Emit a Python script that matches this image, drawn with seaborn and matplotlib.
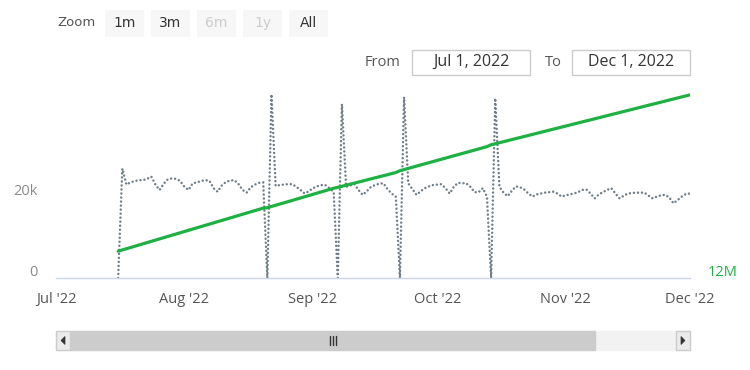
import pandas as pd
import numpy as np
import matplotlib
matplotlib.use("Agg")
import matplotlib.pyplot as plt
import matplotlib.transforms as mtransforms
from matplotlib.patches import Rectangle, Polygon
from matplotlib.lines import Line2D
import seaborn as sns

# daily counts (thousands) starting Jul 16, 2022
start_day = "2022-07-16"
daily_k = [
    0.0,
    24.6, 21.0, 21.5, 21.8, 22.0, 22.0, 22.3, 22.8, 21.0, 19.8,
    21.2, 22.2, 22.4, 22.3, 21.8, 20.5, 19.8, 21.3, 21.5, 21.8,
    22.0, 21.9, 20.2, 19.4, 20.8, 21.6, 21.9, 22.0, 21.2, 19.8,
    19.2, 20.4, 21.0, 21.4, 21.5, 0.0, 41.3, 20.7, 20.9, 21.0,
    21.1, 21.1, 20.5, 19.8, 19.0, 19.5, 20.2, 20.6, 20.9, 20.9,
    20.2, 19.4, 0.0, 39.1, 20.5, 20.8, 21.1, 19.8, 18.7, 19.5,
    20.5, 20.9, 21.2, 21.3, 20.0, 19.0, 18.3, 0.0, 40.7, 21.3,
    20.0, 18.7, 19.5, 20.2, 20.6, 20.9, 21.0, 21.1, 20.2, 19.0,
    20.5, 21.4, 21.3, 21.3, 20.5, 19.3, 19.3, 20.2, 18.3, 0.0,
    40.4, 20.5, 19.2, 18.4, 19.6, 20.6, 20.4, 19.9, 19.0, 18.3,
    18.8, 19.0, 19.2, 19.3, 19.4, 19.0, 18.3, 18.6, 18.8, 19.0,
    19.3, 19.8, 19.9, 19.0, 17.9, 18.8, 19.3, 19.8, 20.2, 19.0,
    17.9, 18.5, 19.0, 19.1, 19.2, 19.2, 19.2, 18.5, 17.9, 18.3,
    18.6, 18.7, 18.1, 16.8, 17.5, 18.3, 18.9, 19.0,
]

# cumulative series (millions), right axis
green_dates = ["2022-07-16", "2022-08-20", "2022-08-21", "2022-09-06", "2022-09-07",
               "2022-09-21", "2022-09-22", "2022-10-13", "2022-10-14", "2022-12-01"]
green_m = [12.058, 12.151, 12.152, 12.194, 12.196,
           12.228, 12.232, 12.284, 12.288, 12.396]

month_ticks = ["2022-07-01", "2022-08-01", "2022-09-01", "2022-10-01", "2022-11-01", "2022-12-01"]
month_labels = ["Jul '22", "Aug '22", "Sep '22", "Oct '22", "Nov '22", "Dec '22"]
zoom_buttons = ["1m", "3m", "6m", "1y", "All"]
zoom_enabled = [True, True, False, False, True]
from_text = "Jul 1, 2022"
to_text = "Dec 1, 2022"

GRAY = "#6f7e88"
GREEN = "#1db043"
W, H = 750, 370

sns.set_style("white")
plt.rcParams["font.family"] = ["Open Sans", "DejaVu Sans"]

fig = plt.figure(figsize=(7.5, 3.7), dpi=100)


def fx(x):
    return x / W


def fy(y):
    return 1 - y / H


ax = fig.add_axes([fx(56), fy(278), fx(690) - fx(56), fy(93) - fy(278)])

gray_df = pd.DataFrame({"date": pd.date_range(start_day, periods=len(daily_k), freq="D"),
                        "value": daily_k})
sns.lineplot(data=gray_df, x="date", y="value", ax=ax, color=GRAY, linewidth=1.8,
             linestyle=(0, (0.01, 1.6)))
ax.lines[-1].set_dash_capstyle("round")

ax.set_xlim(pd.Timestamp("2022-07-01"), pd.Timestamp("2022-12-01"))
ax.set_ylim(0, 41.6)
ax.set_xticks(pd.to_datetime(month_ticks))
ax.set_xticklabels(month_labels, fontsize=10.5, color="#555555")
ax.set_yticks([0, 20])
ax.set_yticklabels(["0", "20k"], fontsize=10.5, color="#8a8a8a")
ax.tick_params(axis="x", length=9, width=1, color="#ccd6eb", pad=1, direction="out")
ax.tick_params(axis="y", length=0, pad=13)
off = mtransforms.ScaledTranslation(0, 7 / 100, fig.dpi_scale_trans)
ax.get_yticklabels()[0].set_transform(ax.get_yticklabels()[0].get_transform() + off)
ax.set_xlabel("")
ax.set_ylabel("")
for s in ["top", "right", "left"]:
    ax.spines[s].set_visible(False)
ax.spines["bottom"].set_color("#ccd6eb")
ax.spines["bottom"].set_linewidth(1)

ax2 = ax.twinx()
green_df = pd.DataFrame({"date": pd.to_datetime(green_dates), "value": green_m})
sns.lineplot(data=green_df, x="date", y="value", ax=ax2, color=GREEN, linewidth=2.3)
ax2.set_ylim(12.0, 12.4)
ax2.set_yticks([12.0])
ax2.set_yticklabels(["12M"], fontsize=10.5, color=GREEN)
ax2.tick_params(axis="y", length=0, pad=13)
ax2.get_yticklabels()[0].set_transform(ax2.get_yticklabels()[0].get_transform() + off)
ax2.set_ylabel("")
ax2.set_xlim(pd.Timestamp("2022-07-01"), pd.Timestamp("2022-12-01"))
for s in ["top", "right", "left", "bottom"]:
    ax2.spines[s].set_visible(False)

# range selector buttons
fig.text(fx(77), fy(22), "Zoom", fontsize=9.5, color="#555555", ha="center", va="center",
         family="DejaVu Sans")
btn_x = [105, 151, 197, 243, 289]
for bx, lab, en in zip(btn_x, zoom_buttons, zoom_enabled):
    fig.add_artist(Rectangle((fx(bx), fy(37)), fx(39), fy(10) - fy(37),
                             transform=fig.transFigure, facecolor="#f7f7f7", edgecolor="none"))
    fig.text(fx(bx + 19.5), fy(23), lab, fontsize=10, ha="center", va="center",
             color="#333333" if en else "#cccccc", family="DejaVu Sans")

# date inputs
fig.text(fx(383), fy(62), "From", fontsize=10.5, color="#555555", ha="center", va="center")
fig.text(fx(553), fy(62), "To", fontsize=10.5, color="#555555", ha="center", va="center")
for bx, txt in [(412, from_text), (572, to_text)]:
    fig.add_artist(Rectangle((fx(bx), fy(75)), fx(118), fy(50) - fy(75),
                             transform=fig.transFigure, facecolor="white",
                             edgecolor="#cccccc", linewidth=1))
    fig.text(fx(bx + 59), fy(62), txt, fontsize=11.5, color="#333333", ha="center", va="center")

# scrollbar
sy0, sy1 = 331, 350
fig.add_artist(Rectangle((fx(56), fy(sy1)), fx(634), fy(sy0) - fy(sy1),
                         transform=fig.transFigure, facecolor="#f2f2f2", edgecolor="#f2f2f2"))
fig.add_artist(Rectangle((fx(70), fy(sy1)), fx(525), fy(sy0) - fy(sy1),
                         transform=fig.transFigure, facecolor="#cccccc", edgecolor="#cccccc"))
for bx in [56, 676]:
    fig.add_artist(Rectangle((fx(bx), fy(sy1)), fx(14), fy(sy0) - fy(sy1),
                             transform=fig.transFigure, facecolor="#ebebeb",
                             edgecolor="#cccccc", linewidth=1))
fig.add_artist(Polygon([(fx(65), fy(336.5)), (fx(65), fy(344.5)), (fx(61), fy(340.5))],
                       closed=True, transform=fig.transFigure, facecolor="#333333",
                       edgecolor="#333333", linewidth=0.5))
fig.add_artist(Polygon([(fx(681), fy(336.5)), (fx(681), fy(344.5)), (fx(685), fy(340.5))],
                       closed=True, transform=fig.transFigure, facecolor="#333333",
                       edgecolor="#333333", linewidth=0.5))
for gx in [330, 333, 336]:
    fig.add_artist(Line2D([fx(gx), fx(gx)], [fy(336), fy(345)], transform=fig.transFigure,
                          color="#333333", linewidth=1))

fig.savefig("out.png", dpi=100, facecolor="white")
